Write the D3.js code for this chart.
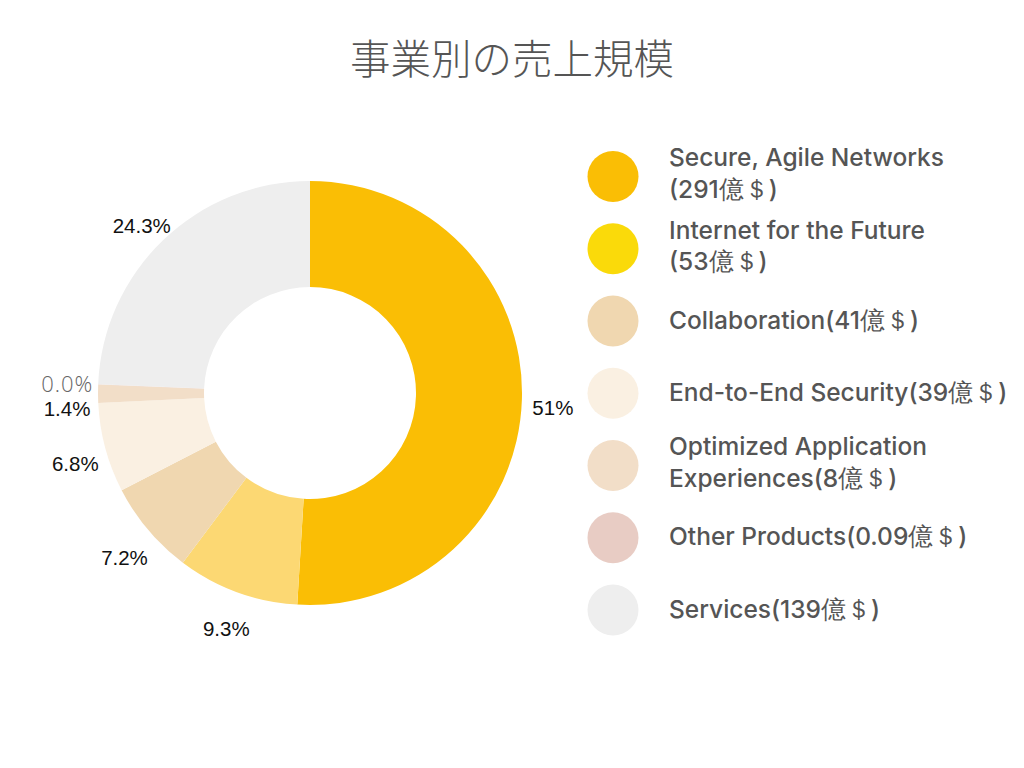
<!DOCTYPE html>
<html>
<head>
<meta charset="utf-8">
<script src="https://cdn.jsdelivr.net/npm/d3@7"></script>
<style>
  body { margin: 0; background: #fff; }
</style>
</head>
<body>
<div id="chart"></div>
<script>
const width = 1024;
const height = 768;

// data
const names = ["Secure, Agile Networks", "Internet for the Future", "Collaboration",
    "End-to-End Security", "Optimized Application Experiences", "Other Products", "Services"];
const values = [291, 53, 41, 39, 8, 0.09, 139];
const sliceColors = ["#FABE05", "#FCD873", "#F0D7B0", "#FAF0E2", "#F2DEC8", "#E8CCC4", "#EEEEEE"];
const legendColors = ["#FABE05", "#FADA0A", "#F0D7B0", "#FAF0E2", "#F2DEC8", "#E8CCC4", "#EEEEEE"];

const svg = d3.select("#chart").append("svg")
    .attr("width", width)
    .attr("height", height);

svg.append("text")
    .attr("x", 512)
    .attr("y", 74)
    .attr("text-anchor", "middle")
    .style("font-family", "'Noto Sans CJK JP'")
    .style("font-weight", 300)
    .style("font-size", "40.5px")
    .style("fill", "#555")
    .text("事業別の売上規模");

const cx = 310, cy = 393;
const outerR = 212, innerR = 106, labelR = 243;

const total = d3.sum(values);
const pie = d3.pie().sort(null).value(d => d)(values);
const arc = d3.arc().innerRadius(innerR).outerRadius(outerR);
const labelArc = d3.arc().innerRadius(labelR).outerRadius(labelR);

const g = svg.append("g").attr("transform", `translate(${cx},${cy})`);

g.selectAll("path")
    .data(pie)
    .enter().append("path")
    .attr("d", arc)
    .style("fill", (d, i) => sliceColors[i]);

// label positions, with a simple vertical push for crowded labels
const labels = pie.map((d, i) => {
    const [x, y] = labelArc.centroid(d);
    const p = d.value / total * 100;
    const txt = p >= 10 && Math.abs(p - Math.round(p)) < 0.05 ? Math.round(p) + "%" : p.toFixed(1) + "%";
    return { x, y: y + 8, txt, i };
});
for (let k = 0; k < 30; k++) {
    for (let a = 0; a < labels.length; a++) {
        for (let b = a + 1; b < labels.length; b++) {
            const la = labels[a], lb = labels[b];
            if (Math.abs(la.x - lb.x) < 50 && Math.abs(la.y - lb.y) < 25) {
                const push = (25 - Math.abs(la.y - lb.y)) / 2;
                // on the left side the later slice sits higher
                const s = la.x < 0 ? 1 : -1;
                la.y += s * push;
                lb.y -= s * push;
            }
        }
    }
}

const zero = d => d.txt === "0.0%";
g.selectAll("text.lbl")
    .data(labels)
    .enter().append("text")
    .attr("class", "lbl")
    .attr("x", d => d.x)
    .attr("y", d => d.y)
    .attr("dy", "0.35em")
    .attr("text-anchor", "middle")
    .style("font-family", d => zero(d) ? "'Open Sans', sans-serif" : "'Liberation Sans', Arial, sans-serif")
    .style("font-weight", d => zero(d) ? 300 : 400)
    .style("font-size", d => zero(d) ? "22px" : "20.5px")
    .style("letter-spacing", d => zero(d) ? "1px" : null)
    .style("fill", d => zero(d) ? "#666" : "#111")
    .text(d => d.txt);

// legend
const legend = svg.append("g");
const legendY = d3.scalePoint().domain(d3.range(names.length)).range([176.5, 610]);
const maxW = 344;

names.forEach((name, i) => {
    const y = legendY(i);
    legend.append("circle")
        .attr("cx", 613)
        .attr("cy", y)
        .attr("r", 25.5)
        .style("fill", legendColors[i]);

    const full = name + "(" + values[i] + "億＄)";
    const t = legend.append("text")
        .attr("x", 669)
        .style("font-family", "Inter, sans-serif")
        .style("font-weight", 500)
        .style("font-size", "24.5px")
        .style("fill", "#555");

    // wrap: break at spaces and before "("
    const tokens = full.replace("(", " \u0000(").split(" ");
    const lines = [];
    let cur = "";
    tokens.forEach(tok => {
        const glue = tok.startsWith("\u0000") ? "" : " ";
        const w = tok.replace("\u0000", "");
        const trial = cur === "" ? w : cur + glue + w;
        t.text(trial);
        if (t.node().getComputedTextLength() > maxW && cur !== "") {
            lines.push(cur);
            cur = w;
        } else {
            cur = trial;
        }
    });
    lines.push(cur);
    t.text(null);

    const lh = 31.5;
    const shift = lines.length > 1 ? -3 : -1;
    lines.forEach((ln, j) => {
        t.append("tspan")
            .attr("x", 669)
            .attr("y", y + shift + (j - (lines.length - 1) / 2) * lh)
            .attr("dy", "0.35em")
            .text(ln);
    });
});
</script>
</body>
</html>
